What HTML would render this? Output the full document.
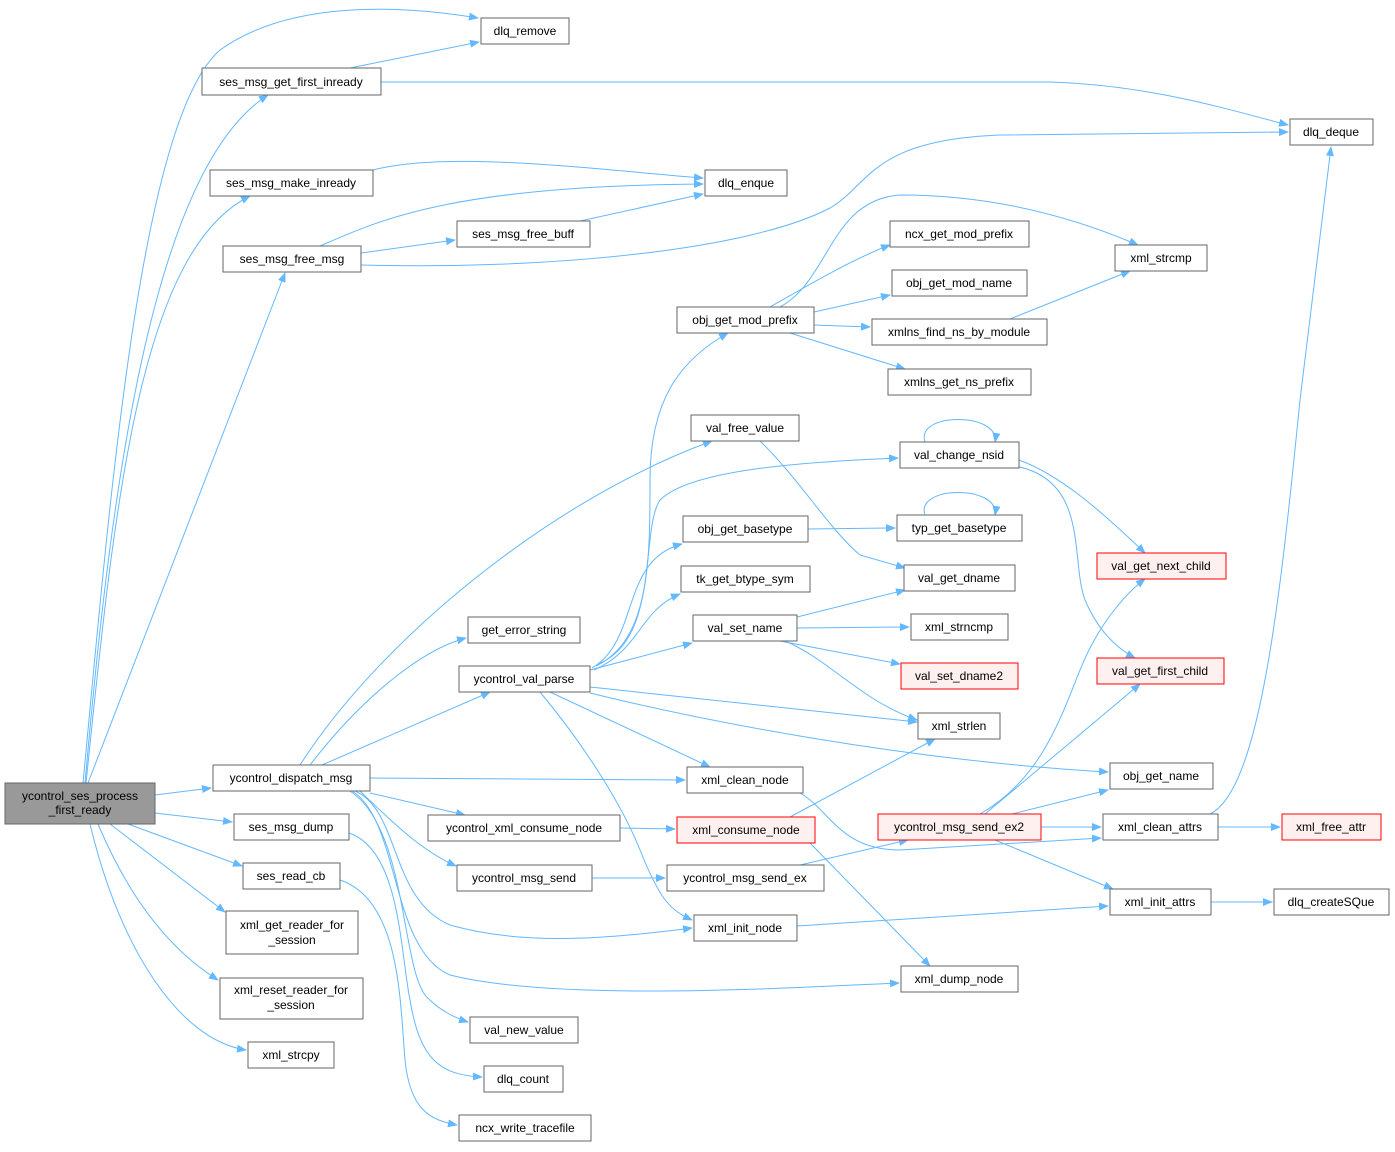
<!DOCTYPE html>
<html><head><meta charset="utf-8"><style>
html,body{margin:0;padding:0;background:#fff}
svg text{font-family:"Liberation Sans",Arial,sans-serif;font-size:12px;fill:#000}
.n{fill:#fff;stroke:#666;stroke-width:1}
.r{fill:#fff0f0;stroke:#f00;stroke-width:1}
.g{fill:#999;stroke:#666;stroke-width:1}
.e{fill:none;stroke:#63b8ff;stroke-width:1}
</style></head><body>
<svg width="1395" height="1147" viewBox="0 0 1395 1147" xmlns="http://www.w3.org/2000/svg">
<defs><marker id="a" markerWidth="10" markerHeight="8" refX="9" refY="4" orient="auto" markerUnits="userSpaceOnUse"><path d="M0,0 L10,4 L0,8 z" fill="#63b8ff"/></marker></defs>
<g class="e" marker-end="url(#a)">
<path d="M83,783 C110,500 140,120 220,50 C290,0 400,5 478,18"/>
<path d="M85,783 C110,500 150,170 268,95"/>
<path d="M86,783 C115,500 140,250 250,196"/>
<path d="M88,783 L285,273"/>
<path d="M155,795 L211,788"/>
<path d="M155,813 L232,822"/>
<path d="M128,824 L242,866"/>
<path d="M110,824 L225,912"/>
<path d="M98,824 C130,900 170,950 218,980"/>
<path d="M90,824 C120,950 180,1040 246,1050"/>
<path d="M350,68 L479,42"/>
<path d="M381,82 C500,82 900,82 1050,82 C1150,85 1230,110 1288,125"/>
<path d="M373,170 C450,150 600,170 703,178"/>
<path d="M320,246 C380,220 450,186 703,184"/>
<path d="M361,253 L455,240"/>
<path d="M361,265 C550,270 750,250 830,208 C870,185 870,140 1000,135 L1288,132"/>
<path d="M580,221 L703,194"/>
<path d="M770,307 C800,290 850,260 890,245"/>
<path d="M780,307 C830,280 830,200 900,195 C1000,195 1080,220 1138,245"/>
<path d="M814,312 L890,295"/>
<path d="M814,325 L870,327"/>
<path d="M790,333 L905,369"/>
<path d="M1010,319 L1130,271"/>
<path d="M925,442 C915,412 1000,412 995,442"/>
<path d="M1019,460 C1060,475 1100,510 1145,553"/>
<path d="M1015,466 C1090,480 1070,560 1085,600 C1100,635 1120,650 1135,658"/>
<path d="M760,441 C800,480 830,530 860,555 L905,568"/>
<path d="M925,515 C915,485 1000,485 995,515"/>
<path d="M808,529 L895,528"/>
<path d="M797,617 L905,590"/>
<path d="M797,628 L909,627"/>
<path d="M780,641 L900,664"/>
<path d="M785,641 C830,660 860,700 917,720"/>
<path d="M590,670 L692,643"/>
<path d="M592,668 C640,640 620,560 682,544"/>
<path d="M594,670 C640,650 640,610 680,594"/>
<path d="M596,666 C650,640 650,560 650,480 C650,400 680,360 728,333"/>
<path d="M598,664 C660,640 640,530 660,500 C690,470 800,462 898,458"/>
<path d="M590,687 L917,722"/>
<path d="M590,693 C700,720 900,760 1108,772"/>
<path d="M550,692 L710,767"/>
<path d="M540,692 C580,740 620,800 640,850 C660,900 670,910 692,920"/>
<path d="M300,765 C380,640 550,500 712,441"/>
<path d="M310,765 C360,700 420,650 466,638"/>
<path d="M322,765 L490,692"/>
<path d="M370,778 L685,780"/>
<path d="M370,793 L465,815"/>
<path d="M360,791 C390,820 420,850 456,866"/>
<path d="M355,791 C400,810 390,900 450,925 C520,945 600,940 692,928"/>
<path d="M352,791 C400,820 390,950 450,975 C550,1000 750,990 899,983"/>
<path d="M350,791 C410,830 400,980 430,1000 C440,1010 455,1018 468,1022"/>
<path d="M349,833 C400,850 400,950 410,1000 C420,1060 440,1075 482,1077"/>
<path d="M340,880 C400,900 400,1000 405,1060 C410,1110 430,1120 457,1125"/>
<path d="M620,828 L675,829"/>
<path d="M790,817 L935,739"/>
<path d="M810,843 L930,966"/>
<path d="M592,878 L665,878"/>
<path d="M800,865 L908,840"/>
<path d="M980,814 C1040,780 1060,720 1080,670 C1100,620 1130,590 1145,579"/>
<path d="M985,814 L1140,684"/>
<path d="M1012,814 L1108,790"/>
<path d="M1041,827 L1101,827"/>
<path d="M995,840 L1113,889"/>
<path d="M800,793 C830,810 840,850 900,850 L1101,838"/>
<path d="M1218,827 L1280,827"/>
<path d="M1210,814 C1260,790 1280,600 1300,400 L1331,147"/>
<path d="M1211,902 L1272,902"/>
<path d="M797,926 L1108,906"/>
</g>
<g>
<rect class="g" x="5" y="783" width="150" height="41"/><text x="80" y="800" text-anchor="middle">ycontrol_ses_process</text><text x="80" y="814" text-anchor="middle">_first_ready</text>
<rect class="n" x="481" y="18" width="88" height="26"/><text x="525" y="35" text-anchor="middle">dlq_remove</text>
<rect class="n" x="202" y="68" width="179" height="27"/><text x="291" y="86" text-anchor="middle">ses_msg_get_first_inready</text>
<rect class="n" x="1290" y="119" width="83" height="26"/><text x="1331" y="136" text-anchor="middle">dlq_deque</text>
<rect class="n" x="210" y="170" width="163" height="26"/><text x="291" y="187" text-anchor="middle">ses_msg_make_inready</text>
<rect class="n" x="705" y="170" width="82" height="26"/><text x="746" y="187" text-anchor="middle">dlq_enque</text>
<rect class="n" x="457" y="221" width="133" height="26"/><text x="523" y="238" text-anchor="middle">ses_msg_free_buff</text>
<rect class="n" x="223" y="246" width="138" height="26"/><text x="292" y="263" text-anchor="middle">ses_msg_free_msg</text>
<rect class="n" x="890" y="221" width="139" height="26"/><text x="959" y="238" text-anchor="middle">ncx_get_mod_prefix</text>
<rect class="n" x="1115" y="245" width="92" height="26"/><text x="1161" y="262" text-anchor="middle">xml_strcmp</text>
<rect class="n" x="892" y="270" width="135" height="26"/><text x="959" y="287" text-anchor="middle">obj_get_mod_name</text>
<rect class="n" x="677" y="307" width="137" height="26"/><text x="745" y="324" text-anchor="middle">obj_get_mod_prefix</text>
<rect class="n" x="872" y="319" width="175" height="26"/><text x="959" y="336" text-anchor="middle">xmlns_find_ns_by_module</text>
<rect class="n" x="888" y="369" width="143" height="26"/><text x="959" y="386" text-anchor="middle">xmlns_get_ns_prefix</text>
<rect class="n" x="691" y="415" width="108" height="26"/><text x="745" y="432" text-anchor="middle">val_free_value</text>
<rect class="n" x="900" y="442" width="119" height="26"/><text x="959" y="459" text-anchor="middle">val_change_nsid</text>
<rect class="n" x="683" y="516" width="125" height="26"/><text x="745" y="533" text-anchor="middle">obj_get_basetype</text>
<rect class="n" x="897" y="515" width="125" height="26"/><text x="959" y="532" text-anchor="middle">typ_get_basetype</text>
<rect class="r" x="1097" y="553" width="129" height="26"/><text x="1161" y="570" text-anchor="middle">val_get_next_child</text>
<rect class="n" x="681" y="566" width="129" height="26"/><text x="745" y="583" text-anchor="middle">tk_get_btype_sym</text>
<rect class="n" x="904" y="565" width="111" height="26"/><text x="959" y="582" text-anchor="middle">val_get_dname</text>
<rect class="n" x="468" y="617" width="112" height="26"/><text x="524" y="634" text-anchor="middle">get_error_string</text>
<rect class="n" x="693" y="615" width="104" height="26"/><text x="745" y="632" text-anchor="middle">val_set_name</text>
<rect class="n" x="911" y="614" width="97" height="26"/><text x="959" y="631" text-anchor="middle">xml_strncmp</text>
<rect class="r" x="1097" y="658" width="127" height="26"/><text x="1160" y="675" text-anchor="middle">val_get_first_child</text>
<rect class="n" x="459" y="666" width="131" height="26"/><text x="524" y="683" text-anchor="middle">ycontrol_val_parse</text>
<rect class="r" x="901" y="663" width="117" height="26"/><text x="959" y="680" text-anchor="middle">val_set_dname2</text>
<rect class="n" x="918" y="713" width="82" height="26"/><text x="959" y="730" text-anchor="middle">xml_strlen</text>
<rect class="n" x="213" y="765" width="157" height="26"/><text x="291" y="782" text-anchor="middle">ycontrol_dispatch_msg</text>
<rect class="n" x="687" y="767" width="116" height="26"/><text x="745" y="784" text-anchor="middle">xml_clean_node</text>
<rect class="n" x="1110" y="763" width="103" height="26"/><text x="1161" y="780" text-anchor="middle">obj_get_name</text>
<rect class="n" x="234" y="814" width="115" height="26"/><text x="291" y="831" text-anchor="middle">ses_msg_dump</text>
<rect class="n" x="428" y="815" width="192" height="26"/><text x="524" y="832" text-anchor="middle">ycontrol_xml_consume_node</text>
<rect class="r" x="677" y="817" width="138" height="26"/><text x="746" y="834" text-anchor="middle">xml_consume_node</text>
<rect class="r" x="878" y="814" width="163" height="26"/><text x="959" y="831" text-anchor="middle">ycontrol_msg_send_ex2</text>
<rect class="n" x="1103" y="814" width="115" height="26"/><text x="1160" y="831" text-anchor="middle">xml_clean_attrs</text>
<rect class="r" x="1282" y="814" width="99" height="26"/><text x="1331" y="831" text-anchor="middle">xml_free_attr</text>
<rect class="n" x="243" y="863" width="97" height="26"/><text x="291" y="880" text-anchor="middle">ses_read_cb</text>
<rect class="n" x="457" y="865" width="135" height="26"/><text x="524" y="882" text-anchor="middle">ycontrol_msg_send</text>
<rect class="n" x="667" y="865" width="157" height="26"/><text x="745" y="882" text-anchor="middle">ycontrol_msg_send_ex</text>
<rect class="n" x="1110" y="889" width="101" height="26"/><text x="1160" y="906" text-anchor="middle">xml_init_attrs</text>
<rect class="n" x="1274" y="889" width="115" height="26"/><text x="1331" y="906" text-anchor="middle">dlq_createSQue</text>
<rect class="n" x="226" y="911" width="132" height="43"/><text x="292" y="929" text-anchor="middle">xml_get_reader_for</text><text x="292" y="944" text-anchor="middle">_session</text>
<rect class="n" x="694" y="915" width="103" height="26"/><text x="745" y="932" text-anchor="middle">xml_init_node</text>
<rect class="n" x="901" y="966" width="117" height="26"/><text x="959" y="983" text-anchor="middle">xml_dump_node</text>
<rect class="n" x="220" y="978" width="143" height="41"/><text x="291" y="994" text-anchor="middle">xml_reset_reader_for</text><text x="291" y="1009" text-anchor="middle">_session</text>
<rect class="n" x="470" y="1017" width="108" height="26"/><text x="524" y="1034" text-anchor="middle">val_new_value</text>
<rect class="n" x="248" y="1042" width="86" height="26"/><text x="291" y="1059" text-anchor="middle">xml_strcpy</text>
<rect class="n" x="484" y="1066" width="79" height="26"/><text x="523" y="1083" text-anchor="middle">dlq_count</text>
<rect class="n" x="459" y="1115" width="132" height="26"/><text x="525" y="1132" text-anchor="middle">ncx_write_tracefile</text>
</g>
</svg>
</body></html>
